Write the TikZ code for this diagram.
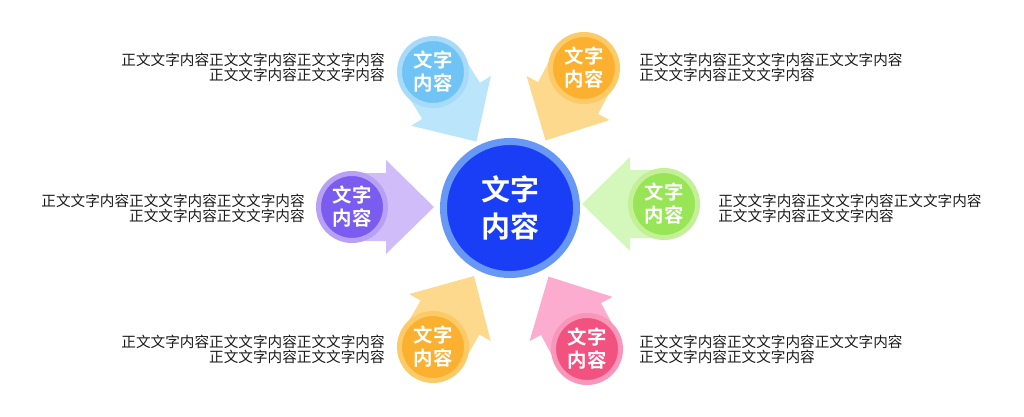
\documentclass[tikz,border=0pt]{standalone}
\usepackage{fontspec}
\newfontfamily\cjk{Noto Sans CJK SC}
\newfontfamily\cjkbold{Noto Sans CJK SC Bold}
\usetikzlibrary{calc}
\definecolor{hubring}{RGB}{104,152,246}
\definecolor{hubfill}{RGB}{26,62,245}
\definecolor{skyarrow}{RGB}{186,229,251}
\definecolor{skyring}{RGB}{168,218,250}
\definecolor{skyfill}{RGB}{112,196,245}
\definecolor{amberarrow}{RGB}{253,217,142}
\definecolor{amberring}{RGB}{253,202,104}
\definecolor{amberfill}{RGB}{251,176,48}
\definecolor{violetarrow}{RGB}{208,188,248}
\definecolor{violetring}{RGB}{184,160,245}
\definecolor{violetfill}{RGB}{122,92,240}
\definecolor{limearrow}{RGB}{212,248,188}
\definecolor{limering}{RGB}{196,240,152}
\definecolor{limefill}{RGB}{152,230,88}
\definecolor{rosearrow}{RGB}{252,172,206}
\definecolor{rosering}{RGB}{249,150,186}
\definecolor{rosefill}{RGB}{242,82,128}
\definecolor{bodytext}{RGB}{26,26,26}
\tikzset{
  petal/.style={circle, line width=0.125cm, minimum size=1.675cm, inner sep=0pt,
    align=center, text=white, font=\cjkbold\fontsize{13.8pt}{16.3pt}\selectfont},
  hub/.style={circle, draw=hubring, fill=hubfill, line width=0.175cm, minimum size=3.325cm,
    inner sep=0pt, align=center, text=white, font=\cjkbold\fontsize{20.6pt}{26pt}\selectfont},
  body/.style={inner sep=0pt, text=bodytext, font=\cjk\fontsize{10.4pt}{10.8pt}\selectfont}
}
% petal: name, position, angle, colour
\def\petal#1#2#3#4{%
  \coordinate (#1-c) at (#2);
  \fill[#4arrow, shift={(#1-c)}, rotate=#3] (0,34) -- (34,34) -- (34,47) -- (82,0) -- (34,-47) -- (34,-34) -- (0,-34) -- cycle;
  \node[petal, draw=#4ring, fill=#4fill] (#1) at (#1-c) {文字\\内容};
}

\begin{document}
\begin{tikzpicture}[x=0.025cm, y=0.025cm]
		%%%%% START %%%%%
		\useasboundingbox (0,0) rectangle (1024,416);
		
		\petal{tl}{433,344}{-58}{sky}
		\petal{tr}{584,348}{-118}{amber}
		\petal{lf}{352,209}{0}{violet}
		\petal{rt}{664,212}{180}{lime}
		\petal{bl}{433,69}{60}{amber}
		\petal{br}{587,67}{118}{rose}
		
		\node[hub] (hub) at (510,208) {文字\\内容};
		
		\node[body, anchor=east, align=right] (tl-txt) at (385,349) {正文文字内容正文文字内容正文文字内容\\正文文字内容正文文字内容};
		\node[body, anchor=west, align=left] (tr-txt) at (639,349) {正文文字内容正文文字内容正文文字内容\\正文文字内容正文文字内容};
		\node[body, anchor=east, align=right] (lf-txt) at (305,208) {正文文字内容正文文字内容正文文字内容\\正文文字内容正文文字内容};
		\node[body, anchor=west, align=left] (rt-txt) at (718,208) {正文文字内容正文文字内容正文文字内容\\正文文字内容正文文字内容};
		\node[body, anchor=east, align=right] (bl-txt) at (385,67) {正文文字内容正文文字内容正文文字内容\\正文文字内容正文文字内容};
		\node[body, anchor=west, align=left] (br-txt) at (639,67) {正文文字内容正文文字内容正文文字内容\\正文文字内容正文文字内容};
		
		%%%%% END %%%%%
\end{tikzpicture}
\end{document}
